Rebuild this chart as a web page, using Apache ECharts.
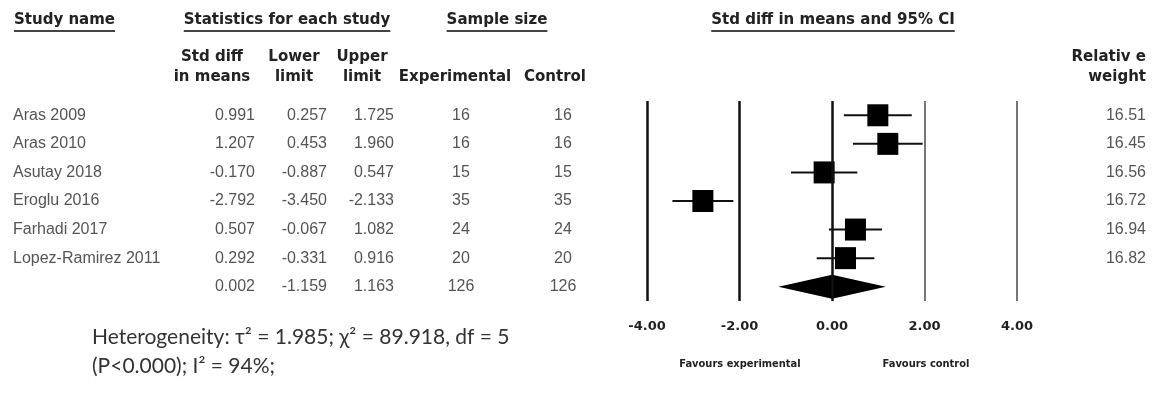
<!DOCTYPE html>
<html><head><meta charset="utf-8">
<script src="https://cdn.jsdelivr.net/npm/echarts@6/dist/echarts.min.js"></script>
<style>html,body{margin:0;padding:0;background:#fff}#c{width:1153px;height:393px}</style>
</head><body><div id="c"></div>
<script>
// ---- data ----
const studies = ['Aras 2009','Aras 2010','Asutay 2018','Eroglu 2016','Farhadi 2017','Lopez-Ramirez 2011'];
const smd   = [0.991, 1.207, -0.170, -2.792, 0.507, 0.292];
const lower = [0.257, 0.453, -0.887, -3.450, -0.067, -0.331];
const upper = [1.725, 1.960, 0.547, -2.133, 1.082, 0.916];
const nExp  = [16, 16, 15, 35, 24, 20];
const nCtl  = [16, 16, 15, 35, 24, 20];
const weights = ['16.51','16.45','16.56','16.72','16.94','16.82'];
const pooledSmd = 0.002, pooledLower = -1.159, pooledUpper = 1.163, pooledExp = 126, pooledCtl = 126;
const xTicks = [-4, -2, 0, 2, 4];
const heterogeneity = ['Heterogeneity: \u03c4\u00b2 = 1.985; \u03c7\u00b2 = 89.918, df = 5', '(P<0.000); I\u00b2 = 94%;'];

// ---- layout ----
const rows = studies.concat(['Overall']);
const summaryRow = rows.length - 1;
const GRID_TOP = 101, GRID_BOTTOM = 92;
const dataFont = '16px "Liberation Sans", Arial, sans-serif';
const headFont = 'bold 15px "DejaVu Sans", Verdana, sans-serif';
const dataColor = '#555';
const headColor = '#222';

const fmt3 = v => v.toFixed(3);
const colText = {
  name: rows.map((r, i) => i < summaryRow ? r : ''),
  smd: smd.concat([pooledSmd]).map(fmt3),
  lower: lower.concat([pooledLower]).map(fmt3),
  upper: upper.concat([pooledUpper]).map(fmt3),
  exp: nExp.concat([pooledExp]).map(String),
  ctl: nCtl.concat([pooledCtl]).map(String),
  weight: weights.concat([''])
};
const columns = [
  {key: 'name', x: 13, align: 'left'},
  {key: 'smd', x: 255, align: 'right'},
  {key: 'lower', x: 327, align: 'right'},
  {key: 'upper', x: 394, align: 'right'},
  {key: 'exp', x: 461, align: 'center'},
  {key: 'ctl', x: 563, align: 'center'},
  {key: 'weight', x: 1146, align: 'right'}
];

const tableSeries = columns.map(col => ({
  type: 'custom', xAxisIndex: 1, yAxisIndex: 1, silent: true,
  data: rows.map((r, i) => [col.x, i]),
  renderItem: (params, api) => {
    const p = api.coord([api.value(0), api.value(1)]);
    return {type: 'text', x: p[0], y: p[1], style: {
      text: colText[col.key][params.dataIndex], align: col.align, verticalAlign: 'middle',
      font: dataFont, fill: dataColor}};
  }
}));

const measure = (() => { const c = document.createElement('canvas').getContext('2d');
  return (t, f) => { c.font = f; return c.measureText(t).width; }; })();

function underlinedHeader(text, cx, y, align) {
  const w = measure(text, headFont);
  const left = align === 'left' ? cx : cx - w / 2;
  return [
    {type: 'text', x: cx, y: y, style: {text, font: headFont, fill: headColor, align: align || 'center', verticalAlign: 'middle'}},
    {type: 'line', shape: {x1: left, y1: y + 11, x2: left + w, y2: y + 11}, style: {stroke: '#444', lineWidth: 2}}
  ];
}
function headText(text, x, y, align) {
  return {type: 'text', x, y, style: {text, font: headFont, fill: headColor, align, verticalAlign: 'middle', lineHeight: 20}};
}
const favFont = 'bold 11px "DejaVu Sans Condensed", "DejaVu Sans", sans-serif';
const hetFont = '21px Lato, sans-serif';

const graphics = [].concat(
  underlinedHeader('Study name', 14, 20, 'left'),
  underlinedHeader('Statistics for each study', 287, 20),
  underlinedHeader('Sample size', 497, 20),
  underlinedHeader('Std diff in means and 95% CI', 833, 20),
  [
    headText('Std diff\nin means', 212, 67, 'center'),
    headText('Lower\nlimit', 294, 67, 'center'),
    headText('Upper\nlimit', 362, 67, 'center'),
    headText('Experimental', 455, 77, 'center'),
    headText('Control', 555, 77, 'center'),
    headText('Relativ e\nweight', 1146, 67, 'right'),
    {type: 'text', x: 740, y: 364, style: {text: 'Favours experimental', font: favFont, fill: '#222', align: 'center', verticalAlign: 'middle'}},
    {type: 'text', x: 926, y: 364, style: {text: 'Favours control', font: favFont, fill: '#222', align: 'center', verticalAlign: 'middle'}},
    {type: 'text', x: 92, y: 337, style: {text: heterogeneity[0], font: hetFont, fill: '#333', verticalAlign: 'middle'}},
    {type: 'text', x: 92, y: 366, style: {text: heterogeneity[1], font: hetFont, fill: '#333', verticalAlign: 'middle'}}
  ]
);

const tickLineColors = xTicks.map(v => v <= 0 ? '#111' : '#777');

const option = {
  animation: false,
  backgroundColor: '#fff',
  grid: [
    {left: 647, right: 1153 - 1017, top: GRID_TOP, bottom: GRID_BOTTOM},
    {left: 0, right: 0, top: GRID_TOP, bottom: GRID_BOTTOM}
  ],
  xAxis: [
    {type: 'value', gridIndex: 0, min: -4, max: 4, interval: 2,
     axisLine: {show: false}, axisTick: {show: false}, splitLine: {show: false},
     axisLabel: {formatter: v => v.toFixed(2), fontFamily: '"DejaVu Sans", Verdana, sans-serif', fontWeight: 'bold', fontSize: 13, color: '#222', margin: 19}},
    {type: 'value', gridIndex: 1, min: 0, max: 1153, show: false}
  ],
  yAxis: [
    {type: 'category', gridIndex: 0, data: rows, inverse: true, show: false},
    {type: 'category', gridIndex: 1, data: rows, inverse: true, show: false}
  ],
  graphic: graphics,
  series: [
    {type: 'scatter', xAxisIndex: 0, yAxisIndex: 0, data: [], silent: true,
     markLine: {silent: true, symbol: 'none', label: {show: false},
       data: xTicks.map((v, i) => ({xAxis: v, lineStyle: {color: tickLineColors[i], width: v <= 0 ? 2.5 : 2, type: 'solid', opacity: 1}}))}},
    {type: 'custom', xAxisIndex: 0, yAxisIndex: 0, silent: true, z: 3,
     data: studies.map((s, i) => [lower[i], upper[i], i]),
     renderItem: (params, api) => {
       const a = api.coord([api.value(0), api.value(2)]);
       const b = api.coord([api.value(1), api.value(2)]);
       return {type: 'line', shape: {x1: a[0], y1: a[1], x2: b[0], y2: b[1]}, style: {stroke: '#111', lineWidth: 2}};
     }},
    {type: 'scatter', xAxisIndex: 0, yAxisIndex: 0, silent: true, z: 4,
     symbol: 'rect', symbolSize: [21, 22], itemStyle: {color: '#000', opacity: 1},
     data: smd.map((v, i) => [v, i])},
    {type: 'custom', xAxisIndex: 0, yAxisIndex: 0, silent: true, z: 4,
     data: [[pooledLower, pooledSmd, pooledUpper, summaryRow]],
     renderItem: (params, api) => {
       const r = api.value(3);
       const l = api.coord([api.value(0), r]);
       const c = api.coord([api.value(1), r]);
       const u = api.coord([api.value(2), r]);
       return {type: 'polygon', shape: {points: [[l[0], l[1]], [c[0], c[1] - 12], [u[0], u[1]], [c[0], c[1] + 12]]}, style: {fill: '#000'}};
     }}
  ].concat(tableSeries)
};

const chart = echarts.init(document.getElementById('c'), null, {renderer: 'canvas'});
chart.setOption(option);
</script></body></html>
